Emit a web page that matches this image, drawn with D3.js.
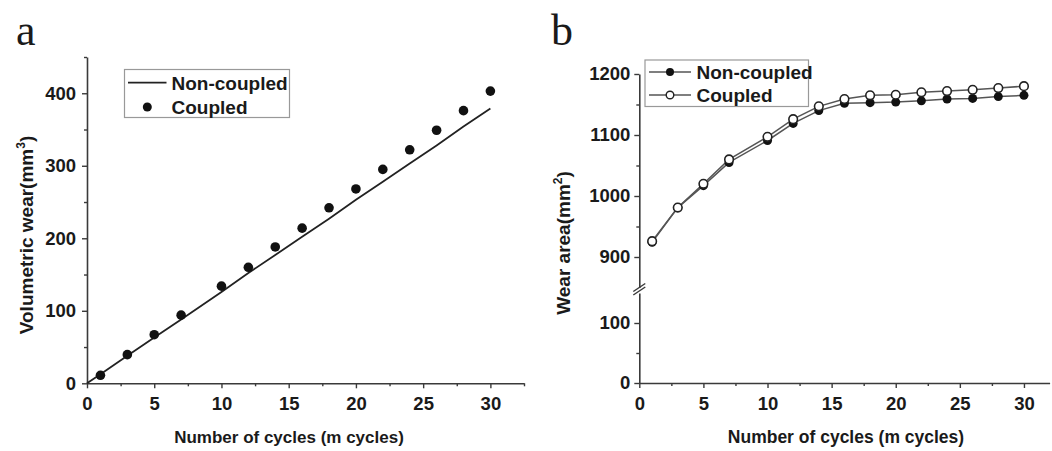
<!DOCTYPE html>
<html>
<head>
<meta charset="utf-8">
<script src="https://cdn.jsdelivr.net/npm/d3@7"></script>
<style>
  html, body { margin: 0; padding: 0; background: #fff; }
  svg { display: block; }
  text { font-family: "Liberation Sans", Arial, sans-serif; font-weight: bold; fill: #1a1a1a; }
  .panel { font-family: "Liberation Serif", "Times New Roman", serif; font-weight: normal; }
</style>
</head>
<body>
<svg id="chart" width="1052" height="451"></svg>
<script>
// ---------- Data ----------
// Panel a: volumetric wear
const cyclesA = [0, 1, 3, 5, 7, 10, 12, 14, 16, 18, 20, 22, 24, 26, 28, 30];
const nonCoupledA = [0, 12.6, 38, 63, 88, 126, 152, 177, 202, 227, 253, 278, 303, 328, 354, 379];
const cyclesACoupled = [1, 3, 5, 7, 10, 12, 14, 16, 18, 20, 22, 24, 26, 28, 30];
const coupledA = [11, 39.5, 67, 94, 134, 160, 188, 214, 242, 268, 295, 322, 349, 376, 403];

// Panel b: wear area
const cyclesB = [1, 3, 5, 7, 10, 12, 14, 16, 18, 20, 22, 24, 26, 28, 30];
const nonCoupledB = [924, 981, 1017, 1055, 1091, 1119, 1140, 1152, 1153, 1154, 1156, 1159, 1160, 1163, 1165];
const coupledB = [926, 981, 1020, 1060, 1097, 1126, 1147, 1159, 1165, 1166, 1170, 1172, 1174, 1177, 1180];

const xTicks = [0, 5, 10, 15, 20, 25, 30];
const xMinorTicks = [2.5, 7.5, 12.5, 17.5, 22.5, 27.5, 32.5];
const yTicksA = [0, 100, 200, 300, 400];
const yMinorTicksA = [50, 150, 250, 350, 450];
const yTicksBLower = [0, 100];
const yMinorBLower = [50];
const yTicksBUpper = [900, 1000, 1100, 1200];
const yMinorBUpper = [950, 1050, 1150];

const xTitle = "Number of cycles (m cycles)";
const legendLabels = ["Non-coupled", "Coupled"];

// ---------- Drawing ----------
const svg = d3.select("#chart");
const AX = "#3a3a3a";
const fmt = d3.format("d");

function styleAxis(g) {
  g.selectAll("path.domain").attr("stroke", AX).attr("stroke-width", 1.6);
  g.selectAll(".tick line").attr("stroke", AX).attr("stroke-width", 1.4);
  g.selectAll(".tick text").style("font-size", "18.5px").attr("fill", "#1a1a1a");
}

// ===== Panel a =====
const xa = d3.scaleLinear().domain([0, 32.5]).range([87, 524]);
const ya = d3.scaleLinear().domain([0, 450]).range([383.3, 57]);

svg.append("text").attr("class", "panel").attr("x", 16).attr("y", 45)
  .style("font-size", "44px").text("a");

const gxa = svg.append("g").attr("transform", `translate(0,${ya(0)})`)
  .call(d3.axisBottom(xa).tickValues(xTicks).tickFormat(fmt).tickSize(5).tickSizeOuter(0).tickPadding(9));
styleAxis(gxa);
const gxam = svg.append("g").attr("transform", `translate(0,${ya(0)})`)
  .call(d3.axisBottom(xa).tickValues(xMinorTicks).tickSize(3).tickFormat(""));
gxam.select("path.domain").remove();
styleAxis(gxam);

const gya = svg.append("g").attr("transform", `translate(${xa(0)},0)`)
  .call(d3.axisLeft(ya).tickValues(yTicksA).tickFormat(fmt).tickSize(5).tickSizeOuter(0).tickPadding(6));
styleAxis(gya);
const gyam = svg.append("g").attr("transform", `translate(${xa(0)},0)`)
  .call(d3.axisLeft(ya).tickValues(yMinorTicksA).tickSize(3).tickFormat(""));
gyam.select("path.domain").remove();
styleAxis(gyam);

// line
const lineA = d3.line().x((d, i) => xa(cyclesA[i])).y(d => ya(d));
svg.append("path").datum(nonCoupledA).attr("d", lineA)
  .attr("fill", "none").attr("stroke", "#222").attr("stroke-width", 1.8);
// points
svg.append("g").selectAll("circle").data(coupledA).join("circle")
  .attr("cx", (d, i) => xa(cyclesACoupled[i])).attr("cy", d => ya(d))
  .attr("r", 4.8).attr("fill", "#111");

// titles
svg.append("text").attr("x", 289).attr("y", 443)
  .attr("text-anchor", "middle").style("font-size", "17px").text(xTitle);
const yta = svg.append("text")
  .attr("transform", `translate(33,${235}) rotate(-90)`)
  .attr("text-anchor", "middle").style("font-size", "19px");
yta.append("tspan").text("Volumetric wear(mm");
yta.append("tspan").attr("dy", -8).style("font-size", "12px").text("3");
yta.append("tspan").attr("dy", 8).text(")");

// legend a
const la = svg.append("g");
la.append("rect").attr("x", 124.5).attr("y", 69.5).attr("width", 165).attr("height", 48)
  .attr("fill", "#fff").attr("stroke", "#999").attr("stroke-width", 1.2);
la.append("line").attr("x1", 128).attr("x2", 166.5).attr("y1", 82.7).attr("y2", 82.7)
  .attr("stroke", "#222").attr("stroke-width", 1.8);
la.append("circle").attr("cx", 147.3).attr("cy", 107).attr("r", 4.5).attr("fill", "#111");
la.append("text").attr("x", 171.5).attr("y", 89.5).style("font-size", "19px").text(legendLabels[0]);
la.append("text").attr("x", 171.5).attr("y", 114).style("font-size", "19px").text(legendLabels[1]);

// ===== Panel b =====
const xb = d3.scaleLinear().domain([0, 32]).range([639.3, 1049.6]);
const ybL = d3.scaleLinear().domain([0, 150]).range([383, 293]);
const ybU = d3.scaleLinear().domain([850, 1200]).range([287.5, 74]);

svg.append("text").attr("class", "panel").attr("x", 551).attr("y", 45)
  .style("font-size", "44px").text("b");

const gxb = svg.append("g").attr("transform", `translate(0,${ybL(0)})`)
  .call(d3.axisBottom(xb).tickValues(xTicks).tickFormat(fmt).tickSize(5).tickSizeOuter(0).tickPadding(9));
styleAxis(gxb);
const gxbm = svg.append("g").attr("transform", `translate(0,${ybL(0)})`)
  .call(d3.axisBottom(xb).tickValues(xMinorTicks.filter(v => v <= 32)).tickSize(3).tickFormat(""));
gxbm.select("path.domain").remove();
styleAxis(gxbm);

const gybL = svg.append("g").attr("transform", `translate(${xb(0)},0)`)
  .call(d3.axisLeft(ybL).tickValues(yTicksBLower).tickFormat(fmt).tickSize(5).tickSizeOuter(0).tickPadding(4));
styleAxis(gybL);
const gybLm = svg.append("g").attr("transform", `translate(${xb(0)},0)`)
  .call(d3.axisLeft(ybL).tickValues(yMinorBLower).tickSize(3).tickFormat(""));
gybLm.select("path.domain").remove();
styleAxis(gybLm);

const gybU = svg.append("g").attr("transform", `translate(${xb(0)},0)`)
  .call(d3.axisLeft(ybU).tickValues(yTicksBUpper).tickFormat(fmt).tickSize(5).tickSizeOuter(0).tickPadding(4));
styleAxis(gybU);
const gybUm = svg.append("g").attr("transform", `translate(${xb(0)},0)`)
  .call(d3.axisLeft(ybU).tickValues(yMinorBUpper).tickSize(3).tickFormat(""));
gybUm.select("path.domain").remove();
styleAxis(gybUm);

// break marks
const bx = xb(0);
[[ -6, 295, 6, 287 ], [ -6, 291.5, 6, 283.5 ]].forEach(s => {
  svg.append("line").attr("x1", bx + s[0]).attr("y1", s[1]).attr("x2", bx + s[2]).attr("y2", s[3])
    .attr("stroke", AX).attr("stroke-width", 1.5);
});

// lines
const lineB = d3.line().x((d, i) => xb(cyclesB[i])).y(d => ybU(d));
svg.append("path").datum(nonCoupledB).attr("d", lineB)
  .attr("fill", "none").attr("stroke", "#555").attr("stroke-width", 1.5);
svg.append("path").datum(coupledB).attr("d", lineB)
  .attr("fill", "none").attr("stroke", "#555").attr("stroke-width", 1.5);
svg.append("g").selectAll("circle").data(nonCoupledB).join("circle")
  .attr("cx", (d, i) => xb(cyclesB[i])).attr("cy", d => ybU(d))
  .attr("r", 4.5).attr("fill", "#111");
svg.append("g").selectAll("circle").data(coupledB).join("circle")
  .attr("cx", (d, i) => xb(cyclesB[i])).attr("cy", d => ybU(d))
  .attr("r", 4.3).attr("fill", "#fff").attr("stroke", "#222").attr("stroke-width", 1.6);

// titles
svg.append("text").attr("x", 846).attr("y", 443)
  .attr("text-anchor", "middle").style("font-size", "17.5px").text(xTitle);
const ytb = svg.append("text")
  .attr("transform", `translate(570,${243}) rotate(-90)`)
  .attr("text-anchor", "middle").style("font-size", "19px");
ytb.append("tspan").text("Wear area(mm");
ytb.append("tspan").attr("dy", -8).style("font-size", "12px").text("2");
ytb.append("tspan").attr("dy", 8).text(")");

// legend b
const lb = svg.append("g");
lb.append("rect").attr("x", 645).attr("y", 60).attr("width", 163.5).attr("height", 46.5)
  .attr("fill", "#fff").attr("stroke", "#999").attr("stroke-width", 1.2);
lb.append("line").attr("x1", 649).attr("x2", 691).attr("y1", 72).attr("y2", 72)
  .attr("stroke", "#555").attr("stroke-width", 1.5);
lb.append("circle").attr("cx", 670).attr("cy", 72).attr("r", 4).attr("fill", "#111");
lb.append("line").attr("x1", 649).attr("x2", 691).attr("y1", 95).attr("y2", 95)
  .attr("stroke", "#555").attr("stroke-width", 1.5);
lb.append("circle").attr("cx", 670).attr("cy", 95).attr("r", 3.8).attr("fill", "#fff")
  .attr("stroke", "#222").attr("stroke-width", 1.4);
lb.append("text").attr("x", 696.5).attr("y", 78.5).style("font-size", "19px").text(legendLabels[0]);
lb.append("text").attr("x", 696.5).attr("y", 101.5).style("font-size", "19px").text(legendLabels[1]);
</script>
</body>
</html>
